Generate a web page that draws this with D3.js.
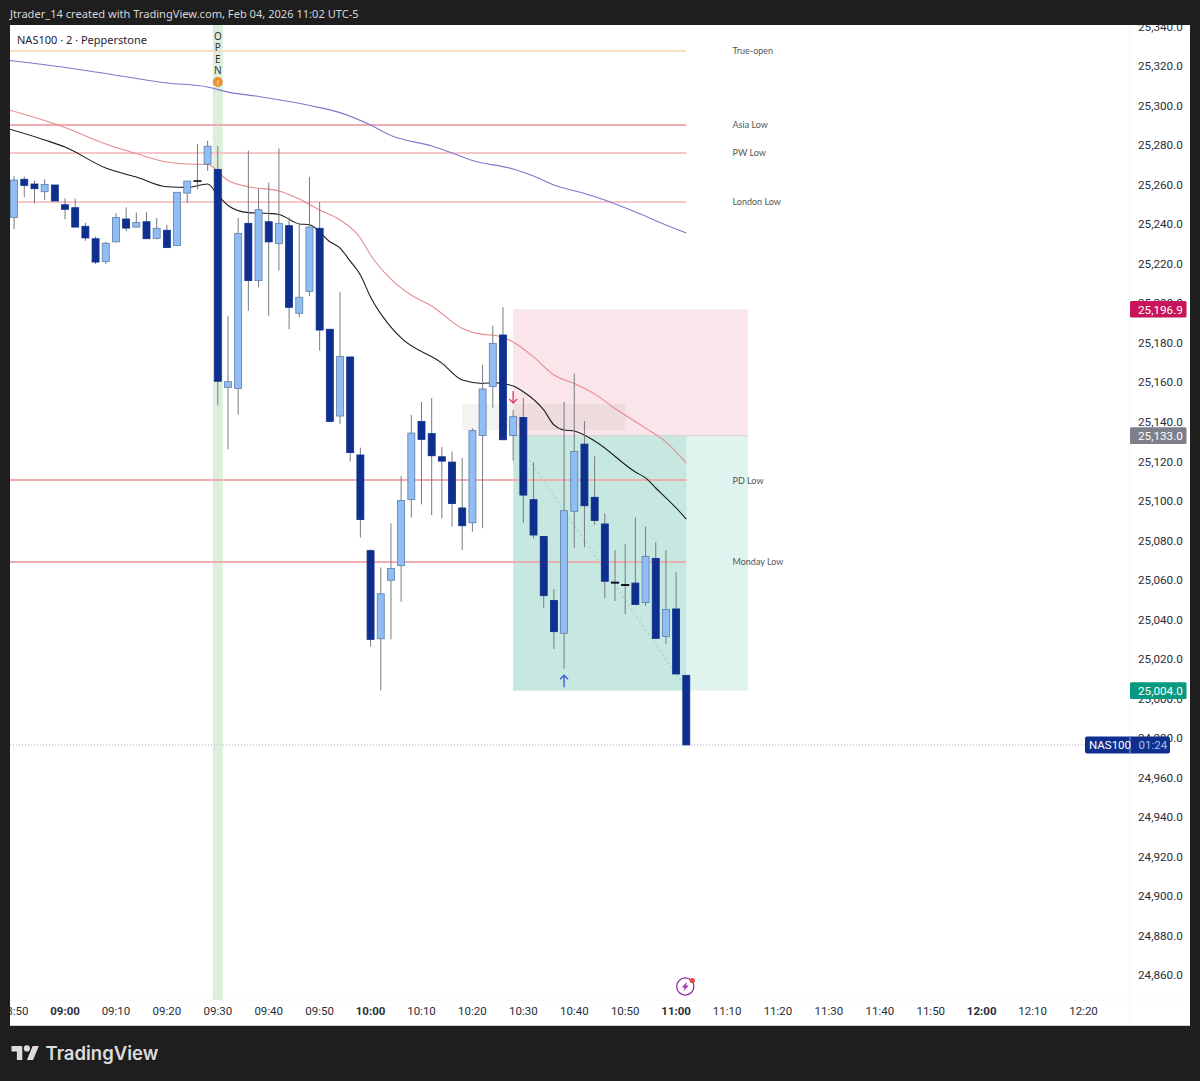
<!DOCTYPE html>
<html>
<head>
<meta charset="utf-8">
<script src="https://cdn.jsdelivr.net/npm/d3@7/dist/d3.min.js"></script>
<style>
html, body { margin: 0; padding: 0; background: #1e1e1e; }
svg { display: block; }
text { font-family: "Noto Sans", sans-serif; }
</style>
</head>
<body>
<div class="map"></div>
<script>
(function(){

//candles, one every 2 minutes from 08:50
var opens = [25243.3,25262.7,25260.3,25256.4,25259.8,25249.8,25248.3,25238.9,25232.6,25221.0,
             25231.0,25242.6,25238.5,25241.2,25232.8,25236.9,25229.1,25255.7,25261.9,25270.3,
             25267.7,25157.4,25156.8,25240.4,25211.4,25241.2,25230.1,25239.2,25194.9,25206.0,
             25237.9,25186.8,25142.9,25172.8,25123.2,25074.8,25030.2,25059.8,25067.2,25100.6,
             25140.2,25134.0,25122.3,25119.6,25096.4,25088.9,25133.0,25157.8,25183.9,25133.0,
             25142.2,25100.6,25082.0,25049.6,25033.0,25094.7,25128.7,25101.8,25088.3,25058.8,
             25057.6,25058.4,25048.5,25070.9,25031.4,25045.3,25011.7];
var highs = [25264.3,25264.0,25262.0,25262.7,25259.8,25253.0,25252.9,25240.7,25233.7,25231.1,
             25245.5,25248.5,25245.8,25246.1,25243.1,25239.7,25256.1,25261.8,25280.5,25282.2,
             25279.5,25193.5,25243.0,25277.2,25257.9,25261.0,25278.3,25243.4,25239.9,25263.8,
             25251.2,25186.8,25205.7,25172.8,25126.9,25075.5,25066.3,25088.6,25112.6,25143.4,
             25150.0,25152.0,25127.2,25124.9,25121.7,25136.7,25168.9,25188.6,25197.9,25145.9,
             25152.0,25119.5,25082.0,25055.4,25150.0,25164.3,25140.4,25122.5,25093.7,25075.1,
             25078.2,25091.6,25086.9,25079.0,25075.1,25064.0,25011.7];
var lows = [25237.4,25253.6,25250.5,25252.2,25251.7,25242.4,25238.5,25231.6,25219.8,25219.8,
            25231.0,25236.4,25238.5,25232.6,25232.3,25228.1,25229.1,25250.9,25257.6,25267.0,
            25148.3,25126.1,25143.6,25196.2,25208.0,25193.7,25216.5,25186.8,25192.8,25203.6,
            25176.0,25140.2,25138.9,25119.8,25081.4,25026.2,25004.1,25029.9,25049.0,25091.6,
            25098.2,25092.8,25091.1,25086.9,25075.1,25084.4,25086.2,25147.1,25130.9,25120.3,
            25088.9,25081.0,25045.9,25025.0,25015.1,25076.1,25076.5,25087.9,25050.7,25049.3,
            25042.7,25047.5,25046.8,25030.4,25027.6,25012.4,24976.5];
var closes = [25262.3,25259.6,25257.9,25260.1,25251.7,25247.5,25238.5,25233.0,25220.8,25230.3,
              25243.3,25238.0,25240.9,25232.6,25237.9,25228.1,25256.1,25261.8,25261.7,25279.4,
              25160.5,25160.3,25235.3,25211.4,25247.3,25231.0,25240.4,25197.9,25203.0,25238.5,
              25186.4,25140.2,25173.1,25124.4,25090.5,25029.9,25053.0,25065.8,25100.2,25134.3,
              25131.1,25122.8,25120.1,25098.6,25087.4,25135.5,25156.6,25179.7,25130.9,25142.6,
              25102.9,25082.7,25052.0,25033.8,25095.0,25125.0,25097.5,25090.0,25059.3,25058.4,
              25057.2,25047.5,25071.9,25030.4,25045.1,25012.4,24976.5];

//moving averages, read at these bars
var blueBars = [-1,0,8,15,19,21,24,27,29,32,35,37,41,43,45,49,51,53,56,58,61,64,66];
var blueValues = [25323.0,25322.5,25317.0,25311.4,25309.4,25306.8,25304.6,25302.0,25300.0,25296.4,25290.1,25284.8,
                  25279.5,25276.0,25272.2,25267.9,25264.3,25259.8,25255.5,25252.2,25246.1,25239.6,25235.5];
var redBars = [-1,3,5,9,12,15,17,19,21,23,26,28,30,32,34,35,37,39,41,44,46,47,49,51,53,55,57,59,62,64,66];
var redValues = [25298.5,25292.4,25288.9,25280.5,25275.7,25271.4,25270.4,25270.2,25262.1,25258.9,25256.8,25252.7,
                 25247.1,25242.1,25233.0,25224.4,25212.2,25204.1,25198.6,25187.2,25184.2,25183.9,25180.4,25172.8,
                 25163.7,25159.4,25154.1,25146.7,25136.8,25129.8,25119.1];
var blackBars = [-1,3,5,9,12,15,17,19,20,21,23,25,26,28,29,31,32,33,34,35,37,38,42,44,46,47,49,50,52,53,54,55,57,61,62,63,65,66];
var blackValues = [25288.9,25282.6,25279.0,25268.4,25263.8,25258.9,25258.6,25260.3,25254.7,25249.4,25245.8,25245.4,
                   25244.9,25240.1,25239.7,25231.1,25227.9,25221.3,25214.3,25203.1,25187.9,25182.4,25169.7,25161.1,
                   25159.4,25159.8,25158.1,25155.2,25146.0,25138.4,25135.8,25135.3,25130.3,25114.6,25111.6,25106.5,
                   25096.4,25090.8];

//levels
var levelNames = ["True-open", "Asia Low", "PW Low", "London Low", "PD Low", "Monday Low"];
var levelPrices = [25327.8, 25290.1, 25276.1, 25251.2, 25110.3, 25069.3];

//position tool
var stopPrice = 25196.9, entryPrice = 25133.0, targetPrice = 25004.0, lastPrice = 24976.5;
var posStartBar = 49, posNowBar = 66, posEndBar = 72.05;

//grey zone and dotted projection
var zoneBars = [44, 60.0], zonePrices = [25149.0, 25135.8];
var projBars = [50.6, 65.6], projPrices = [25120.7, 25007.8];

//axes
var priceTicks = d3.range(24860, 25341, 20);
var timeLabels = ["08:50","09:00","09:10","09:20","09:30","09:40","09:50","10:00","10:10","10:20","10:30","10:40","10:50",
                  "11:00","11:10","11:20","11:30","11:40","11:50","12:00","12:10","12:20"];
var boldLabels = ["09:00","10:00","11:00","12:00"];

var width = 1200, height = 1081;
var chartLeft = 10, chartRight = 1190, chartTop = 25, chartBottom = 1025, plotRight = 1130, plotBottom = 1000;

var x = d3.scaleLinear().domain([0, 66]).range([14.1, 686.3]);
var y = d3.scaleLinear().domain([25320, 24860]).range([66, 975.2]);

var map = d3.select(".map")
    .append("svg")
    .attr("width", width)
    .attr("height", height);

map.append("rect").attr("width", width).attr("height", height).attr("fill", "#1e1e1e");
map.append("rect")
    .attr("x", chartLeft).attr("y", chartTop)
    .attr("width", chartRight - chartLeft).attr("height", chartBottom - chartTop)
    .attr("fill", "#fff");
map.append("rect")
    .attr("x", chartLeft).attr("y", chartBottom)
    .attr("width", chartRight - chartLeft).attr("height", 1)
    .attr("fill", "#cfcfcf");

var defs = map.append("defs");
defs.append("clipPath").attr("id", "plotClip").append("rect")
    .attr("x", chartLeft).attr("y", chartTop)
    .attr("width", plotRight - chartLeft).attr("height", plotBottom - chartTop);
defs.append("clipPath").attr("id", "chartClip").append("rect")
    .attr("x", chartLeft).attr("y", chartTop)
    .attr("width", chartRight - chartLeft).attr("height", chartBottom - chartTop);

//faint axis separators
map.append("line").attr("x1", plotRight).attr("x2", plotRight).attr("y1", chartTop).attr("y2", chartBottom)
    .attr("stroke", "#f4f5f7");
map.append("line").attr("x1", chartLeft).attr("x2", chartRight).attr("y1", plotBottom).attr("y2", plotBottom)
    .attr("stroke", "#f4f5f7");

var plot = map.append("g").attr("clip-path", "url(#plotClip)");

//session band at 09:30
var openBar = timeLabels.indexOf("09:30") * 5;
plot.append("rect")
    .attr("x", x(openBar) - 5).attr("y", chartTop)
    .attr("width", 10).attr("height", plotBottom - chartTop)
    .attr("fill", "#deeedd");

//position boxes
plot.append("rect")
    .attr("x", x(posStartBar)).attr("y", y(stopPrice))
    .attr("width", x(posEndBar) - x(posStartBar)).attr("height", y(entryPrice) - y(stopPrice))
    .attr("fill", "#fae6ea");
plot.append("rect")
    .attr("x", x(posStartBar)).attr("y", y(entryPrice))
    .attr("width", x(posEndBar) - x(posStartBar)).attr("height", y(targetPrice) - y(entryPrice))
    .attr("fill", "#e0f3ef");
plot.append("rect")
    .attr("x", x(posStartBar)).attr("y", y(entryPrice))
    .attr("width", x(posNowBar) - x(posStartBar)).attr("height", y(targetPrice) - y(entryPrice))
    .attr("fill", "#c6e8e1");
plot.append("line")
    .attr("x1", x(posStartBar)).attr("x2", x(posEndBar))
    .attr("y1", y(entryPrice)).attr("y2", y(entryPrice))
    .attr("stroke", "#d9d3d6");

//grey zone
plot.append("rect")
    .attr("x", x(zoneBars[0])).attr("y", y(zonePrices[0]))
    .attr("width", x(zoneBars[1]) - x(zoneBars[0])).attr("height", y(zonePrices[1]) - y(zonePrices[0]))
    .attr("fill", "rgba(120,125,125,0.09)");

//projection
plot.append("line")
    .attr("x1", x(projBars[0])).attr("x2", x(projBars[1]))
    .attr("y1", y(projPrices[0])).attr("y2", y(projPrices[1]))
    .attr("stroke", "#aed3cf").attr("stroke-width", 1.5).attr("stroke-dasharray", "2,3");

//level lines and their names, two rows wide so the pink holds up in the screenshot
plot.selectAll(".level")
    .data(levelPrices)
    .enter()
    .append("line")
    .attr("class", "level")
    .attr("x1", chartLeft).attr("x2", x(posNowBar))
    .attr("y1", function(d){ return Math.round(y(d)); })
    .attr("y2", function(d){ return Math.round(y(d)); })
    .attr("stroke", function(d, i){
        if (i === 0) { return "#f6dfbf"; }
        return (i === 2 || i === 3) ? "#f6c6c8" : "#efadb0";
    })
    .attr("stroke-width", 2);

plot.selectAll(".levelName")
    .data(levelNames)
    .enter()
    .append("text")
    .attr("class", "levelName")
    .attr("x", 732.5)
    .attr("y", function(d, i){ return y(levelPrices[i]) + 3.2; })
    .attr("font-size", 9)
    .attr("fill", "#555")
    .style("font-family", "Lato, sans-serif")
    .text(function(d){ return d; });

//last price line
plot.append("line")
    .attr("x1", chartLeft).attr("x2", plotRight)
    .attr("y1", y(lastPrice)).attr("y2", y(lastPrice))
    .attr("stroke", "#a9b4c4").attr("stroke-dasharray", "1,2");

//moving averages
function drawAverage(bars, values, color, lineWidth){
    var line = d3.line()
        .x(function(d){ return x(d); })
        .y(function(d, i){ return y(values[i]); })
        .curve(d3.curveMonotoneX);
    plot.append("path")
        .attr("d", line(bars))
        .attr("fill", "none")
        .attr("stroke", color)
        .attr("stroke-width", lineWidth);
}
drawAverage(blueBars, blueValues, "#7d79cf", 1.1);
drawAverage(redBars, redValues, "#e88b8e", 1.1);
drawAverage(blackBars, blackValues, "#1c1c1c", 1.1);

//candles
var candles = plot.selectAll(".candle")
    .data(opens)
    .enter()
    .append("g")
    .attr("class", "candle");

candles.append("line")
    .attr("x1", function(d, i){ return x(i); })
    .attr("x2", function(d, i){ return x(i); })
    .attr("y1", function(d, i){ return y(highs[i]); })
    .attr("y2", function(d, i){ return y(lows[i]); })
    .attr("stroke", "#767b82")
    .attr("stroke-width", 1);

candles.append("rect")
    .attr("x", function(d, i){ return x(i) - 3.5; })
    .attr("y", function(d, i){ return y(Math.max(opens[i], closes[i])); })
    .attr("width", 7)
    .attr("height", function(d, i){ return Math.abs(y(opens[i]) - y(closes[i])); })
    .attr("fill", function(d, i){ return closes[i] > opens[i] ? "#90bdf4" : "#0e2f8e"; })
    .attr("stroke", function(d, i){
        if (Math.abs(opens[i] - closes[i]) < 1) { return "#10141f"; }
        return closes[i] > opens[i] ? "#5f7fa8" : "#0e2f8e";
    })
    .attr("stroke-width", function(d, i){ return Math.abs(opens[i] - closes[i]) < 1 ? 1.2 : 0.8; });

//trade arrows
function drawArrow(bar, tipPrice, dir, color){
    var tx = x(bar), ty = y(tipPrice);
    plot.append("path")
        .attr("d", "M" + tx + "," + ty + "v" + (-dir * 12) + "M" + (tx - 4) + "," + (ty - dir * 4) + "L" + tx + "," + ty + "L" + (tx + 4) + "," + (ty - dir * 4))
        .attr("fill", "none")
        .attr("stroke", color)
        .attr("stroke-width", 1.4);
}
drawArrow(49, 25149.5, 1, "#e0405c");
drawArrow(54, 25011.8, -1, "#3f60d8");

//OPEN marker
var openLetters = ["O", "P", "E", "N"];
map.selectAll(".openLetter")
    .data(openLetters)
    .enter()
    .append("text")
    .attr("class", "openLetter")
    .attr("x", x(openBar))
    .attr("y", function(d, i){ return 40 + i * 11.4; })
    .attr("text-anchor", "middle")
    .attr("font-size", 10)
    .attr("fill", "#333")
    .text(function(d){ return d; });
map.append("circle").attr("cx", x(openBar)).attr("cy", 82).attr("r", 5).attr("fill", "#e8933c");
map.append("text").attr("x", x(openBar)).attr("y", 85).attr("text-anchor", "middle").attr("font-size", 7).attr("fill", "#fff").text("i");

//lightning badge
var badge = map.append("g").attr("transform", "translate(" + x(65.9) + ",986.5)");
badge.append("circle").attr("r", 8.6).attr("fill", "#fff").attr("stroke", "#8e2aa8").attr("stroke-width", 1.3);
badge.append("path").attr("d", "M2,-5L-3.5,1H-0.5L-2,5L3.5,-1H0.5Z").attr("fill", "#a033c0");
badge.append("circle").attr("cx", 7).attr("cy", -6).attr("r", 2.6).attr("fill", "#e04848");

//price axis
var priceAxis = d3.axisRight(y)
    .tickValues(priceTicks)
    .tickSize(0)
    .tickPadding(0)
    .tickFormat(d3.format(",.1f"));
var priceG = map.append("g")
    .attr("clip-path", "url(#chartClip)")
    .append("g")
    .attr("transform", "translate(1138,0)")
    .call(priceAxis);
priceG.select(".domain").remove();
priceG.selectAll("text")
    .attr("font-size", 11.7)
    .attr("fill", "#2a2e39")
    .style("font-family", "Roboto, sans-serif");

//time axis
var timeAxis = d3.axisBottom(x)
    .tickValues(timeLabels.map(function(d, i){ return i * 5; }))
    .tickSize(0)
    .tickPadding(0)
    .tickFormat(function(d){ return timeLabels[d / 5]; });
var timeG = map.append("g")
    .attr("clip-path", "url(#chartClip)")
    .append("g")
    .attr("transform", "translate(-0.5,1007)")
    .call(timeAxis);
timeG.select(".domain").remove();
timeG.selectAll("text")
    .attr("font-size", 11.5)
    .attr("fill", "#2a2e39")
    .attr("font-weight", function(d){ return boldLabels.indexOf(timeLabels[d / 5]) >= 0 ? 700 : 400; })
    .style("font-family", "Roboto, sans-serif");

//price tags
var tagPrices = [stopPrice, entryPrice, targetPrice];
var tagColors = ["#c8155a", "#7d808a", "#089a80"];
map.selectAll(".tag")
    .data(tagPrices)
    .enter()
    .append("rect")
    .attr("class", "tag")
    .attr("x", plotRight)
    .attr("y", function(d){ return y(d) - 8.3; })
    .attr("width", 56.5)
    .attr("height", 16.6)
    .attr("rx", 1.5)
    .attr("fill", function(d, i){ return tagColors[i]; });
map.selectAll(".tagText")
    .data(tagPrices)
    .enter()
    .append("text")
    .attr("class", "tagText")
    .attr("x", 1138)
    .attr("y", function(d){ return y(d) + 4.3; })
    .attr("font-size", 11.7)
    .attr("fill", "#fff")
    .style("font-family", "Roboto, sans-serif")
    .text(function(d){ return d3.format(",.1f")(d); });

//symbol tag
map.append("rect")
    .attr("x", 1085).attr("y", y(lastPrice) - 8.5)
    .attr("width", 85).attr("height", 17).attr("rx", 2)
    .attr("fill", "#0e2f8e");
map.append("line")
    .attr("x1", plotRight).attr("x2", plotRight)
    .attr("y1", y(lastPrice) - 8.5).attr("y2", y(lastPrice) + 8.5)
    .attr("stroke", "#8fa3d0");
map.append("text")
    .attr("x", 1089).attr("y", y(lastPrice) + 4.2)
    .attr("font-size", 11.5).attr("fill", "#fff")
    .style("font-family", "Roboto, sans-serif")
    .text("NAS100");
map.append("text")
    .attr("x", 1138.5).attr("y", y(lastPrice) + 4.2)
    .attr("font-size", 11.5).attr("fill", "#a8c0ea")
    .style("font-family", "Roboto, sans-serif")
    .text("01:24");

//titles
map.append("text")
    .attr("x", 10).attr("y", 18)
    .attr("font-size", 11.1).attr("fill", "#d6d6d6")
    .text("Jtrader_14 created with TradingView.com, Feb 04, 2026 11:02 UTC-5");
map.append("text")
    .attr("x", 17).attr("y", 44)
    .attr("font-size", 11).attr("fill", "#1f2430")
    .text("NAS100 · 2 · Pepperstone");

//logo
var logo = map.append("g").attr("transform", "translate(11.5,1043) scale(0.77)").attr("fill", "#dcdcdc");
logo.append("path").attr("d", "M14 22H7V11H0V4h14v18ZM28 22h-8l7.5-18h8L28 22Z");
logo.append("circle").attr("cx", 20).attr("cy", 7).attr("r", 4);
map.append("text")
    .attr("x", 45.5).attr("y", 1060)
    .attr("font-size", 18.5).attr("font-weight", 600).attr("fill", "#dcdcdc")
    .style("font-family", "Inter, sans-serif")
    .text("TradingView");

})();
</script>
</body>
</html>
